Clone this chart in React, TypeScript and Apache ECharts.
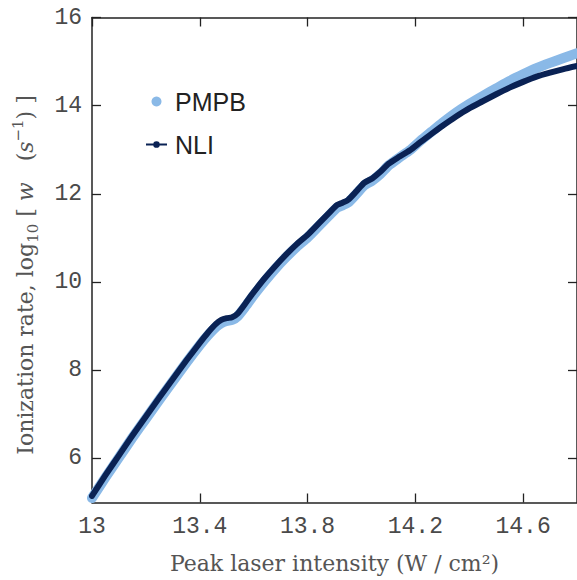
import React, { useEffect, useRef } from "react";
import * as echarts from "echarts";

const intensity = [
  13.0, 13.05, 13.1, 13.15, 13.2, 13.25, 13.3, 13.35, 13.4, 13.43, 13.46, 13.48,
  13.5, 13.52, 13.54, 13.57, 13.6, 13.64, 13.68, 13.72, 13.76, 13.8, 13.84, 13.88,
  13.91, 13.93, 13.95, 13.98, 14.01, 14.04, 14.07, 14.1, 14.14, 14.18, 14.22, 14.26,
  14.3, 14.35, 14.4, 14.45, 14.5, 14.55, 14.6, 14.65, 14.7, 14.75, 14.8,
];

const nliRate = [
  5.15, 5.62, 6.07, 6.52, 6.95, 7.38, 7.8, 8.22, 8.62, 8.85, 9.05, 9.14,
  9.18, 9.2, 9.28, 9.52, 9.77, 10.08, 10.36, 10.62, 10.86, 11.07, 11.32, 11.57,
  11.75, 11.8, 11.86, 12.05, 12.25, 12.35, 12.5, 12.68, 12.84, 12.99, 13.18, 13.36,
  13.54, 13.75, 13.94, 14.1, 14.26, 14.41, 14.54, 14.66, 14.75, 14.83, 14.9,
];

const pmpbRate = [
  5.1, 5.57, 6.02, 6.47, 6.9, 7.33, 7.75, 8.17, 8.57, 8.79, 8.98, 9.07,
  9.12, 9.14, 9.22, 9.45, 9.7, 10.01, 10.3, 10.56, 10.8, 11.01, 11.26, 11.51,
  11.69, 11.74, 11.8, 11.99, 12.19, 12.3, 12.45, 12.64, 12.82, 12.99, 13.21, 13.41,
  13.61, 13.84, 14.04, 14.22, 14.39, 14.56, 14.71, 14.85, 14.97, 15.08, 15.19,
];

const xTicks = [13, 13.4, 13.8, 14.2, 14.6];
const yTicks = [6, 8, 10, 12, 14, 16];

const seriesNames = ["PMPB", "NLI"];

const AXIS_COLOR = "#222";
const LIGHT = "#8ab9e7";
const DARK = "#0a2254";
const TITLE_FONT = "DejaVu Serif";

const NLI_ICON =
  "path://M0,2.45 H7.2 V4.25 H0 Z M13.8,2.45 H21 V4.25 H13.8 Z M7.15,3.35 A3.35,3.35 0 1 0 13.85,3.35 A3.35,3.35 0 1 0 7.15,3.35 Z";

export default function App() {
  const ref = useRef<HTMLDivElement>(null);

  useEffect(() => {
    if (!ref.current) return;
    const chart = echarts.init(ref.current, undefined, { renderer: "svg" });

    const axisLine = { show: true, lineStyle: { color: AXIS_COLOR, width: 1.5 } };
    const tickStyle = { color: AXIS_COLOR, width: 1.3 };
    const labelFont = {
      fontFamily: "Liberation Mono",
      fontSize: 23,
      color: "#4a4a4a",
    };

    chart.setOption({
      animation: false,
      backgroundColor: "#fff",
      grid: { left: 92, top: 17.5, right: -1, bottom: 77.5 },
      legend: {
        orient: "vertical",
        left: 146,
        top: 89,
        padding: 0,
        itemGap: 18,
        itemWidth: 21,
        itemHeight: 10,
        data: [
          { name: seriesNames[0], icon: "circle" },
          { name: seriesNames[1], icon: NLI_ICON },
        ],
        textStyle: {
          fontFamily: "Liberation Sans",
          fontSize: 25,
          lineHeight: 24,
          color: "#222",
          padding: [0, 0, 0, 3],
        },
      },
      xAxis: [
        {
          type: "value",
          position: "bottom",
          min: 13,
          max: 14.8,
          axisLine,
          splitLine: { show: false },
          axisTick: { show: true, inside: true, length: 9, customValues: xTicks, lineStyle: tickStyle },
          axisLabel: { show: true, customValues: xTicks, margin: 13, ...labelFont },
          name: "Peak laser intensity (W / cm²)",
          nameLocation: "middle",
          nameGap: 50,
          nameTextStyle: {
            fontFamily: TITLE_FONT,
            fontSize: 22,
            color: "#555",
          },
        },
        {
          type: "value",
          position: "top",
          min: 13,
          max: 14.8,
          axisLine,
          splitLine: { show: false },
          axisTick: { show: true, inside: true, length: 9, customValues: xTicks, lineStyle: tickStyle },
          axisLabel: { show: false },
        },
      ],
      yAxis: [
        {
          type: "value",
          position: "left",
          min: 5,
          max: 16,
          axisLine,
          splitLine: { show: false },
          axisTick: { show: true, inside: true, length: 9, customValues: yTicks, lineStyle: tickStyle },
          axisLabel: { show: true, customValues: yTicks, margin: 10, ...labelFont },
          name: "Ionization rate, log{sub|10} [ {it|w}   ({it|s}{sup|−1}) ]",
          nameLocation: "middle",
          nameGap: 52,
          nameTextStyle: {
            fontFamily: TITLE_FONT,
            fontSize: 22,
            color: "#555",
            lineHeight: 30,
            padding: [0, 30, 0, 0],
            rich: {
              sub: {
                fontFamily: TITLE_FONT,
                fontSize: 15,
                color: "#555",
                verticalAlign: "bottom",
                lineHeight: 30,
              },
              sup: {
                fontFamily: TITLE_FONT,
                fontSize: 15,
                color: "#555",
                verticalAlign: "top",
                lineHeight: 30,
              },
              it: {
                fontFamily: TITLE_FONT,
                fontStyle: "italic",
                fontSize: 22,
                color: "#555",
                lineHeight: 30,
              },
            },
          },
        },
        {
          type: "value",
          position: "right",
          min: 5,
          max: 16,
          axisLine,
          splitLine: { show: false },
          axisTick: { show: true, inside: true, length: 9, customValues: yTicks, lineStyle: tickStyle },
          axisLabel: { show: false },
        },
      ],
      series: [
        {
          name: seriesNames[0],
          type: "line",
          xAxisIndex: 0,
          yAxisIndex: 0,
          data: intensity.map((x, i) => [x, pmpbRate[i]]),
          showSymbol: false,
          symbol: "circle",
          smooth: 0.2,
          color: LIGHT,
          lineStyle: { color: LIGHT, width: 10, cap: "round", join: "round" },
          z: 2,
        },
        {
          name: seriesNames[1],
          type: "line",
          xAxisIndex: 0,
          yAxisIndex: 0,
          data: intensity.map((x, i) => [x, nliRate[i]]),
          showSymbol: false,
          symbol: "circle",
          smooth: 0.2,
          color: DARK,
          lineStyle: { color: DARK, width: 6, cap: "round", join: "round" },
          z: 3,
        },
      ],
    });

    return () => chart.dispose();
  }, []);

  return (
    <div
      ref={ref}
      style={{ position: "fixed", left: 0, top: 0, width: 577, height: 580 }}
    />
  );
}
